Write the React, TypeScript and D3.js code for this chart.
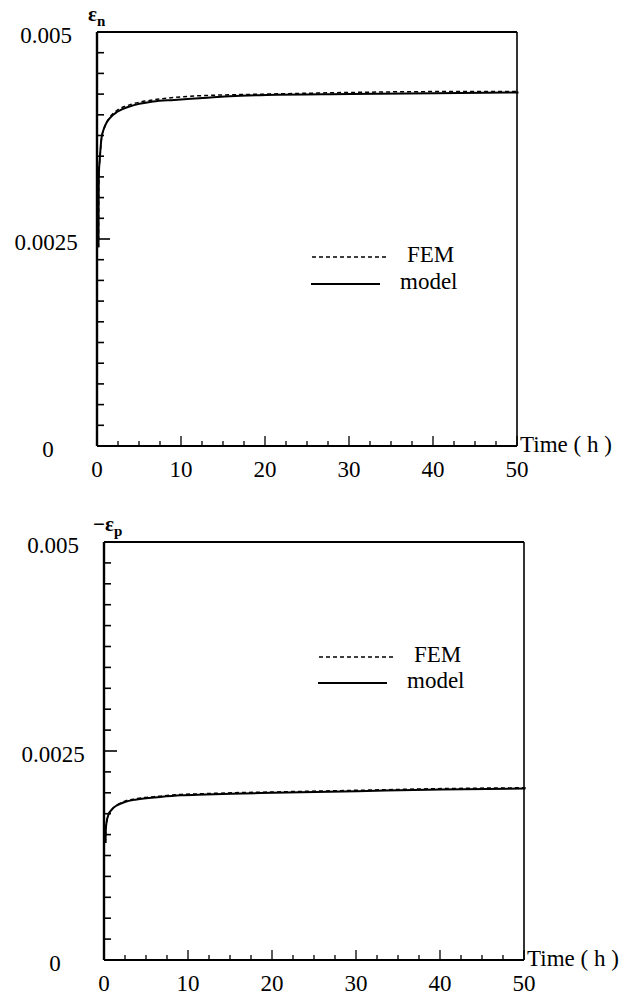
import React from "react";
import * as d3 from "d3";

const timeH = [0, 0.02, 0.05, 0.15, 0.36, 0.75, 1.35, 2.3, 3.7, 6.5, 9, 12, 15, 20, 30, 40, 50];
const modelN = [0.0024, 0.003, 0.0033, 0.00346, 0.00372, 0.00386, 0.00396, 0.00404, 0.0041, 0.00416, 0.00418, 0.0042, 0.00422, 0.00424, 0.00425, 0.00426, 0.00427];
const femN = [0.0024, 0.003, 0.0033, 0.00345, 0.00371, 0.00386, 0.00397, 0.00406, 0.00412, 0.00418, 0.00421, 0.00423, 0.00424, 0.00425, 0.00427, 0.00428, 0.00428];
const modelP = [0.0014, 0.0015, 0.00158, 0.00166, 0.00174, 0.0018, 0.00185, 0.00189, 0.00192, 0.00195, 0.00197, 0.00198, 0.00199, 0.002, 0.00202, 0.00204, 0.00205];
const femP = [0.0014, 0.0015, 0.00158, 0.00166, 0.00174, 0.0018, 0.00185, 0.0019, 0.00193, 0.00196, 0.00198, 0.00199, 0.002, 0.00201, 0.00203, 0.00205, 0.00206];
const yTickLabels = ["0", "0.0025", "0.005"];
const yTickValues = [0, 0.0025, 0.005];
const xTickValues = [0, 10, 20, 30, 40, 50];
const legendLabels = ["FEM", "model"];

const FONT = "Liberation Serif, Times New Roman, Times, serif";

type PanelProps = {
  left: number; right: number; top: number; bottom: number;
  model: number[]; fem: number[];
  sub: string; minus: boolean;
  labelX: number; legendY: number[];
};

function Panel({ left, right, top, bottom, model, fem, sub, minus, labelX, legendY }: PanelProps) {
  const x = d3.scaleLinear().domain([0, 50]).range([left, right]);
  const y = d3.scaleLinear().domain([0, 0.005]).range([bottom, top]);
  const line = (vals: number[]) =>
    d3.line<number>().x((_, i) => x(timeH[i]) + 1.5).y((v) => y(v)).curve(d3.curveMonotoneX)(vals) || "";
  const yMinor = d3.range(0, 21).map((i) => i * 0.00025);
  const xMinor = d3.range(0, 21).map((i) => i * 2.5);
  const ts = { fontFamily: FONT, fontSize: 23 } as React.CSSProperties;
  return (
    <g>
      <line x1={left} x2={right} y1={top} y2={top} stroke="#000" strokeWidth={2.2} />
      <line x1={right} x2={right} y1={top} y2={bottom} stroke="#000" strokeWidth={1.6} />
      <line x1={left} x2={right} y1={bottom} y2={bottom} stroke="#000" strokeWidth={1.8} />
      <line x1={left} x2={left} y1={top} y2={bottom} stroke="#000" strokeWidth={2.4} />
      {yMinor.map((v, i) => (
        <line key={"yt" + i} x1={left} x2={left + (i % 10 === 0 ? 13 : 7)} y1={y(v)} y2={y(v)} stroke="#000" strokeWidth={1.6} />
      ))}
      {xMinor.map((v, i) => (
        <line key={"xt" + i} x1={x(v)} x2={x(v)} y1={bottom} y2={bottom - (i % 4 === 0 ? 10 : 5)} stroke="#000" strokeWidth={1.3} />
      ))}
      {yTickValues.map((v, i) => (
        <text key={"yl" + i} x={labelX + (v === 0 ? 2 : 0)} y={y(v) + 6} textAnchor="middle" dominantBaseline="middle" style={ts}>
          {yTickLabels[i]}
        </text>
      ))}
      {xTickValues.map((v) => (
        <text key={"xl" + v} x={x(v)} y={bottom + 26} textAnchor="middle" dominantBaseline="middle" style={ts}>
          {v}
        </text>
      ))}
      <text x={right + 3} y={bottom + 1} dominantBaseline="middle" style={ts}>
        Time ( h )
      </text>
      <text x={left - (minus ? 11 : 9)} y={top - 11} style={{ fontFamily: FONT, fontSize: 21, fontWeight: "bold" }}>
        {minus ? "\u2212" : ""}ε
        <tspan dy={5} style={{ fontSize: 15 }}>{sub}</tspan>
      </text>
      <path d={line(model)} fill="none" stroke="#000" strokeWidth={2} />
      <path d={line(fem)} fill="none" stroke="#000" strokeWidth={1.5} strokeDasharray="4,3" />
      <line x1={left + 215} x2={left + 289} y1={legendY[0]} y2={legendY[0]} stroke="#000" strokeWidth={1.3} strokeDasharray="4,3" />
      <text x={left + 310} y={legendY[0]} dominantBaseline="middle" style={ts}>{legendLabels[0]}</text>
      <line x1={left + 214} x2={left + 283} y1={legendY[1]} y2={legendY[1]} stroke="#000" strokeWidth={1.8} />
      <text x={left + 303} y={legendY[1]} dominantBaseline="middle" style={ts}>{legendLabels[1]}</text>
    </g>
  );
}

export default function App() {
  return (
    <svg width={633} height={996} style={{ position: "absolute", left: 0, top: 0, background: "#fff" }}>
      <rect width={633} height={996} fill="#fff" />
      <Panel left={97} right={517} top={32} bottom={446} model={modelN} fem={femN} sub="n" minus={false} labelX={46} legendY={[257, 284]} />
      <Panel left={104} right={524} top={542} bottom={960} model={modelP} fem={femP} sub="p" minus={true} labelX={53} legendY={[657, 683]} />
    </svg>
  );
}
